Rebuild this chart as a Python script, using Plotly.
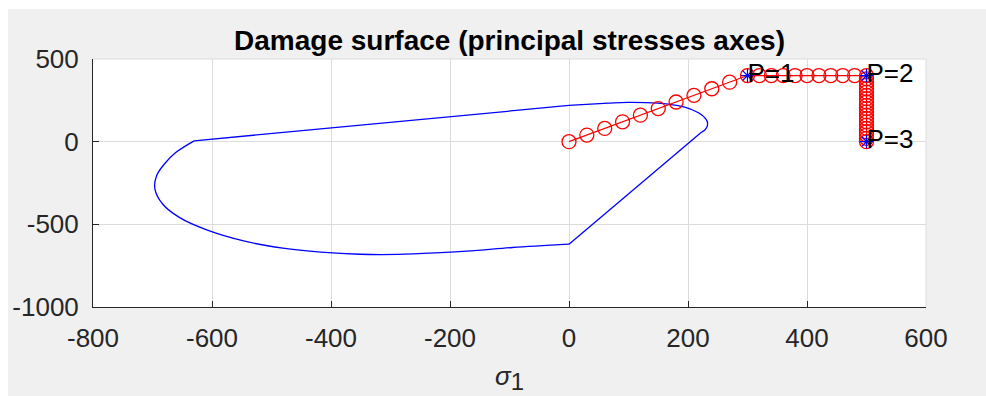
import plotly.graph_objects as go

# ---- data ----
surf_upper_x = [-630, 0]
surf_upper_y = [5, 219]
surf_cap_x = [0, 66, 98, 149, 181, 207, 226, 233, 230, 223]
surf_cap_y = [219, 233, 238, 233, 219, 193, 153, 114, 78, 58]
surf_side_x = [223, 0]
surf_side_y = [58, -620]
surf_lower_x = [0, -95, -159, -224, -288, -352, -417, -481, -545, -610, -655, -683, -696, -693, -680, -661, -630]
surf_lower_y = [-620, -640, -659, -673, -682, -681, -668, -644, -602, -532, -458, -377, -285, -205, -135, -66, 5]

path_x = [0, 30, 60, 90, 120, 150, 180, 210, 240, 270, 300,
          320, 340, 360, 380, 400, 420, 440, 460, 480, 500,
          500, 500, 500, 500, 500, 500, 500, 500, 500, 500,
          500, 500, 500, 500, 500, 500, 500, 500, 500, 500]
path_y = [0, 40, 80, 120, 160, 200, 240, 280, 320, 360, 400,
          400, 400, 400, 400, 400, 400, 400, 400, 400, 400,
          380, 360, 340, 320, 300, 280, 260, 240, 220, 200,
          180, 160, 140, 120, 100, 80, 60, 40, 20, 0]

point_x = [300, 500, 500]
point_y = [400, 400, 0]
point_labels = ["P=1", "P=2", "P=3"]

x_ticks = [-800, -600, -400, -200, 0, 200, 400, 600]
x_tick_labels = ["-800", "-600", "-400", "-200", "0", "200", "400", "600"]
y_ticks = [-1000, -500, 0, 500]
y_tick_labels = ["-1000", "-500", "0", "500"]

FONT = "Liberation Sans, Arial, Helvetica, sans-serif"
BLUE = "#0000ff"
RED = "#ff0000"
GRID = "#dcdcdc"

fig = go.Figure()
surf_line = dict(color=BLUE, width=1.3)
fig.add_trace(go.Scatter(x=surf_upper_x, y=surf_upper_y, mode="lines", line=surf_line))
fig.add_trace(go.Scatter(x=surf_cap_x, y=surf_cap_y, mode="lines", line=dict(surf_line, shape="spline")))
fig.add_trace(go.Scatter(x=surf_side_x, y=surf_side_y, mode="lines", line=surf_line))
fig.add_trace(go.Scatter(x=surf_lower_x, y=surf_lower_y, mode="lines", line=dict(surf_line, shape="spline")))

fig.add_trace(go.Scatter(
    x=path_x, y=path_y, mode="lines+markers",
    line=dict(color=RED, width=1.2),
    marker=dict(symbol="circle-open", size=14, color=RED, line=dict(color=RED, width=1.3)),
))
fig.add_trace(go.Scatter(
    x=point_x, y=point_y, mode="markers",
    marker=dict(symbol="asterisk-open", size=11, color=BLUE, line=dict(color=BLUE, width=1.2)),
))
fig.add_trace(go.Scatter(
    x=point_x, y=point_y, mode="text", text=point_labels,
    textposition="middle right",
    textfont=dict(family=FONT, size=26, color="#000000"),
))

axis_common = dict(
    showgrid=True, gridcolor=GRID, gridwidth=1,
    zeroline=False, showline=True, linecolor="#262626", linewidth=1,
    ticks="inside", ticklen=6, tickcolor="#262626", tickwidth=1,
    tickfont=dict(family=FONT, size=26, color="#262626"),
    mirror=False,
)

fig.update_layout(
    width=986, height=396,
    margin=dict(l=93, r=60, t=59, b=89, pad=0),
    paper_bgcolor="#f0f0f0",
    plot_bgcolor="#ffffff",
    showlegend=False,
    title=dict(
        text="<b>Damage surface (principal stresses axes)</b>",
        font=dict(family=FONT, size=28, color="#000000"),
        x=0.5, xref="paper", xanchor="center",
        y=1, yref="paper", yanchor="bottom", pad=dict(b=9),
    ),
    xaxis=dict(axis_common, range=[-800, 600], tickvals=x_ticks, ticktext=x_tick_labels,
               ticklabelstandoff=8,
               title=dict(text="<i>σ</i><sub><span style='font-size:24px'>1</span></sub>",
                          font=dict(family=FONT, size=26, color="#262626"),
                          standoff=14)),
    yaxis=dict(axis_common, range=[-1000, 500], tickvals=y_ticks, ticktext=y_tick_labels,
               ticklabelstandoff=8),
    shapes=[
        dict(type="line", xref="paper", yref="paper", x0=0, x1=1, y0=1, y1=1,
             line=dict(color=GRID, width=1), layer="below"),
        dict(type="line", xref="paper", yref="paper", x0=1, x1=1, y0=0, y1=1,
             line=dict(color=GRID, width=1), layer="below"),
        dict(type="rect", xref="paper", yref="paper", x0=-0.2, x1=1.2,
             y0=1 + 50 / 248, y1=1 + 60 / 248, fillcolor="#ffffff", line=dict(width=0), layer="above"),
        dict(type="rect", xref="paper", yref="paper", x0=-93 / 833, x1=-85 / 833,
             y0=-0.5, y1=1.5, fillcolor="#ffffff", line=dict(width=0), layer="above"),
    ],
)

fig.write_html("out.html")
